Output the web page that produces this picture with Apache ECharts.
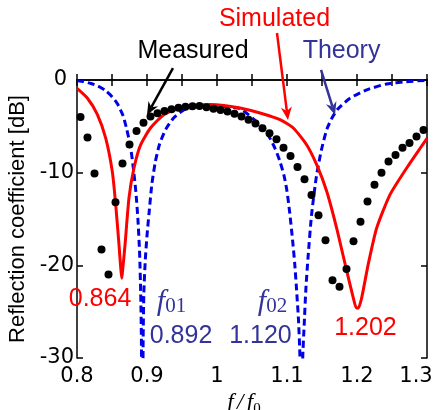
<!DOCTYPE html>
<html>
<head>
<meta charset="utf-8">
<script src="https://cdn.jsdelivr.net/npm/echarts@6/dist/echarts.min.js"></script>
<style>
html, body { margin: 0; padding: 0; background: #fff; }
#box { width: 442px; height: 410px; }
</style>
</head>
<body>
<div id="box"></div>
<script>
// tick labels
var xTickLabels = ['0.8', '0.9', '1', '1.1', '1.2', '1.3'];
var yTickLabels = ['-30', '-20', '-10', '0'];

// measured (dots)
var measX = [0.805, 0.815, 0.825, 0.835, 0.845, 0.855, 0.865, 0.875, 0.885, 0.895,
	0.905, 0.915, 0.925, 0.935, 0.945, 0.955, 0.965, 0.975, 0.985, 0.995,
	1.005, 1.015, 1.025, 1.035, 1.045, 1.055, 1.065, 1.075, 1.085, 1.095,
	1.105, 1.115, 1.125, 1.135, 1.145, 1.155, 1.165, 1.175, 1.185, 1.195,
	1.205, 1.215, 1.225, 1.235, 1.245, 1.255, 1.265, 1.275, 1.285, 1.295];
var measY = [-4.0, -6.2, -10.1, -18.3, -21.0, -13.2, -9.0, -6.95, -5.5, -4.6,
	-3.95, -3.6, -3.35, -3.15, -3.0, -2.88, -2.82, -2.8, -2.95, -3.1,
	-3.25, -3.4, -3.65, -3.95, -4.3, -4.7, -5.2, -5.75, -6.4, -7.3,
	-8.2, -9.4, -10.7, -12.4, -14.6, -17.3, -21.6, -22.3, -20.4, -17.4,
	-15.3, -13.1, -11.3, -10.0, -8.8, -8.1, -7.3, -6.8, -6.1, -5.4];

// simulated (red line)
var simX = [0.800, 0.8147, 0.829, 0.841, 0.8504, 0.8553, 0.860, 0.8625, 0.8640, 0.8655,
	0.8686, 0.8743, 0.8814, 0.891, 0.905, 0.924, 0.948, 0.970, 0.990, 1.010,
	1.033, 1.0614, 1.090, 1.109, 1.128, 1.1424, 1.1567, 1.171, 1.1853, 1.1947,
	1.1990, 1.2020, 1.2067, 1.216, 1.228, 1.247, 1.271, 1.300];
var simY = [-0.9, -1.94, -3.7, -6.26, -9.86, -13.45, -17.8, -20.3, -21.4, -20.3,
	-17.8, -12.7, -9.5, -6.98, -5.18, -3.74, -3.02, -2.72, -2.65, -2.75,
	-3.02, -3.56, -4.28, -5.18, -6.98, -9.14, -12.0, -16.0, -20.6, -23.5,
	-24.6, -24.6, -23.5, -19.9, -16.0, -12.4, -9.5, -6.3];

// theory (blue dashed)
var theoX = [0.800, 0.810, 0.820, 0.830, 0.840, 0.850, 0.858, 0.866, 0.871, 0.876,
	0.880, 0.884, 0.887, 0.8895, 0.891, 0.892, 0.8932, 0.8945, 0.8955, 0.8975,
	0.900, 0.903, 0.907, 0.912, 0.918, 0.927, 0.938, 0.952, 0.970, 0.990,
	1.010, 1.033, 1.052, 1.063, 1.075, 1.083, 1.090, 1.096, 1.100, 1.104,
	1.108, 1.111, 1.114, 1.1165, 1.1185, 1.1205, 1.1225, 1.1245, 1.127, 1.130,
	1.135, 1.142, 1.149, 1.157, 1.165, 1.173, 1.190, 1.214, 1.242, 1.270, 1.300];
var theoY = [-0.05, -0.18, -0.38, -0.65, -1.1, -1.8, -2.6, -3.9, -5.3, -7.0,
	-9.2, -12.0, -15.0, -18.8, -23.0, -28.0, -45, -28.0, -23.0, -19.5,
	-16.8, -14.3, -11.2, -8.8, -6.9, -5.3, -4.1, -3.25, -2.9, -2.8,
	-2.9, -3.1, -4.2, -5.0, -6.2, -7.4, -8.8, -10.4, -12.0, -14.4,
	-17.3, -19.8, -23.0, -26.0, -30.0, -45, -30.0, -26.5, -22.5, -19.2,
	-14.6, -10.4, -7.6, -5.3, -4.0, -3.1, -1.96, -1.06, -0.43, -0.18, -0.03];

function zip(xs, ys) {
	var out = [];
	for (var i = 0; i < xs.length; i++) out.push([xs[i], ys[i]]);
	return out;
}

// annotations, anchored in data units
var notes = [
	{ text: 'Measured', at: [0.9657, 3.13], color: '#000000' },
	{ text: 'Simulated', at: [1.0821, 6.58], color: '#ff0000' },
	{ text: 'Theory', at: [1.1779, 3.13], color: '#333399' },
	{ text: '0.864', at: [0.8329, -23.63], color: '#ff0000' },
	{ text: '1.202', at: [1.2121, -26.76], color: '#ff0000' },
	{ text: '0.892', at: [0.9486, -27.6], color: '#333399' },
	{ text: '1.120', at: [1.0621, -27.6], color: '#333399' }
];
var subNotes = [
	{ sub: '01', at: [0.935, -23.96] },
	{ sub: '02', at: [1.0793, -23.96] }
];
var arrows = [
	{ from: [0.9371, 1.29], to: [0.9, -3.78], color: '#000000' },
	{ from: [1.0857, 5.07], to: [1.1014, -4.32], color: '#ff0000' },
	{ from: [1.1486, 1.08], to: [1.1686, -3.78], color: '#333399' }
];

var myChart = echarts.init(document.getElementById('box'));

var frameLine = { show: true, lineStyle: { color: '#000', width: 1.5 } };
var tick = { show: true, inside: true, length: 6, lineStyle: { color: '#000', width: 1.5 } };
var minor = { show: true, splitNumber: 2, length: 6, lineStyle: { color: '#000', width: 1.5 } };

var option = {
	animation: false,
	backgroundColor: '#fff',
	grid: { left: 77, right: 15, top: 80, bottom: 52, outerBoundsMode: 'none' },
	xAxis: [{
		type: 'value',
		min: 0.8,
		max: 1.3,
		interval: 0.1,
		position: 'bottom',
		axisLine: frameLine,
		axisTick: tick,
		minorTick: minor,
		splitLine: { show: false },
		axisLabel: {
			margin: 8,
			color: '#000',
			fontFamily: 'DejaVu Sans',
			fontSize: 21,
			formatter: function (v) {
				var i = Math.round((v - 0.8) / 0.1);
				if (i === xTickLabels.length - 1) return '{m|' + xTickLabels[i] + '}';
				return xTickLabels[i];
			},
			rich: { m: { padding: [0, 22, 0, 0], fontFamily: 'DejaVu Sans', fontSize: 21, color: '#000' } }
		},
		name: '{i|f} {i|/} {i|f}{s|0}',
		nameLocation: 'middle',
		nameGap: 28,
		nameTextStyle: {
			padding: [0, 16, 0, 0],
			rich: {
				i: { fontFamily: 'Liberation Serif', fontStyle: 'italic', fontSize: 23, lineHeight: 26, color: '#000' },
				s: { fontFamily: 'Liberation Serif', fontSize: 15, lineHeight: 15, verticalAlign: 'bottom', color: '#000' }
			}
		}
	}, {
		type: 'value',
		min: 0.8,
		max: 1.3,
		interval: 0.1,
		position: 'top',
		axisLine: frameLine,
		axisTick: tick,
		minorTick: minor,
		splitLine: { show: false },
		axisLabel: { show: false }
	}],
	yAxis: [{
		type: 'value',
		min: -30,
		max: 0,
		interval: 10,
		position: 'left',
		axisLine: frameLine,
		axisTick: tick,
		splitLine: { show: false },
		axisLabel: {
			margin: 3,
			color: '#000',
			fontFamily: 'DejaVu Sans',
			fontSize: 21,
			formatter: function (v) {
				var i = Math.round((v + 30) / 10);
				if (i === yTickLabels.length - 1) return '{z|' + yTickLabels[i] + '}';
				return yTickLabels[i];
			},
			rich: { z: { padding: [0, 7, 0, 0], fontFamily: 'DejaVu Sans', fontSize: 21, color: '#000' } }
		},
		name: 'Reflection coefficient [dB]',
		nameLocation: 'middle',
		nameGap: 42,
		nameTextStyle: { fontFamily: 'Liberation Sans', fontSize: 22, color: '#000' }
	}, {
		type: 'value',
		min: -30,
		max: 0,
		interval: 10,
		position: 'right',
		axisLine: frameLine,
		axisTick: tick,
		splitLine: { show: false },
		axisLabel: { show: false }
	}],
	series: [{
		name: 'Theory',
		type: 'line',
		data: zip(theoX, theoY),
		showSymbol: false,
		symbol: 'none',
		smooth: 0.2,
		clip: true,
		lineStyle: { color: '#0000e6', width: 3, type: [7, 4] },
		z: 2
	}, {
		name: 'Simulated',
		type: 'line',
		data: zip(simX, simY),
		showSymbol: false,
		symbol: 'none',
		smooth: 0.2,
		clip: true,
		lineStyle: { color: '#ff0000', width: 3 },
		z: 3
	}, {
		name: 'Measured',
		type: 'scatter',
		data: zip(measX, measY),
		symbol: 'circle',
		symbolSize: 8,
		itemStyle: { color: '#000', opacity: 1 },
		z: 4
	}]
};

myChart.setOption(option);

function px(p) {
	return myChart.convertToPixel({ xAxisIndex: 0, yAxisIndex: 0 }, p);
}

function arrowShapes(a) {
	var p0 = px(a.from), p1 = px(a.to);
	var dx = p1[0] - p0[0], dy = p1[1] - p0[1];
	var len = Math.sqrt(dx * dx + dy * dy);
	var ux = dx / len, uy = dy / len;
	var hl = 13, hw = 5.5, notch = 4;
	var bx = p1[0] - ux * hl, by = p1[1] - uy * hl;
	var nx = p1[0] - ux * (hl - notch), ny = p1[1] - uy * (hl - notch);
	return [{
		type: 'line',
		shape: { x1: p0[0], y1: p0[1], x2: nx, y2: ny },
		style: { stroke: a.color, lineWidth: 2.5 },
		z: 10
	}, {
		type: 'polygon',
		shape: { points: [[p1[0], p1[1]], [bx - uy * hw, by + ux * hw], [nx, ny], [bx + uy * hw, by - ux * hw]] },
		style: { fill: a.color },
		z: 10
	}];
}

var elements = [];
notes.forEach(function (n) {
	var p = px(n.at);
	elements.push({
		type: 'text',
		x: p[0],
		y: p[1],
		z: 10,
		style: {
			text: n.text,
			fill: n.color,
			fontFamily: 'Liberation Sans',
			fontSize: 25,
			align: 'center',
			verticalAlign: 'middle'
		}
	});
});
subNotes.forEach(function (n) {
	var p = px(n.at);
	elements.push({
		type: 'text',
		x: p[0],
		y: p[1],
		z: 10,
		style: {
			text: '{f|f}{s|' + n.sub + '}',
			align: 'center',
			verticalAlign: 'middle',
			rich: {
				f: { fontFamily: 'Liberation Serif', fontStyle: 'italic', fontSize: 30, lineHeight: 30, fill: '#333399', color: '#333399' },
				s: { fontFamily: 'Liberation Serif', fontSize: 21, lineHeight: 20, verticalAlign: 'bottom', fill: '#333399', color: '#333399' }
			}
		}
	});
});
arrows.forEach(function (a) {
	elements = elements.concat(arrowShapes(a));
});

myChart.setOption({ graphic: elements });
</script>
</body>
</html>
